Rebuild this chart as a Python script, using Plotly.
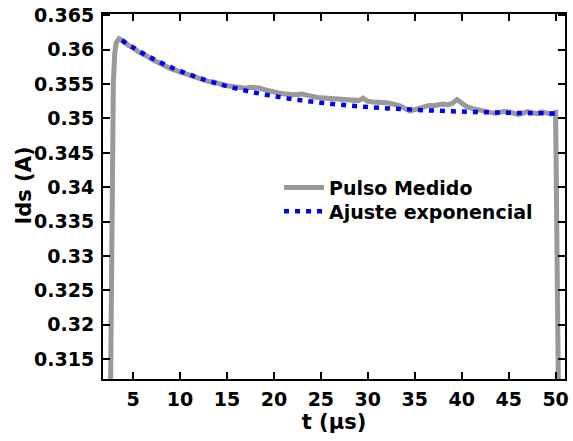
import plotly.graph_objects as go

t_meas = [2.6, 2.75, 2.9, 3.05, 3.2, 3.5, 3.8,
          4.0, 4.5, 5.0, 5.5, 6.0, 6.5, 7.0, 7.5, 8.0, 8.5, 9.0, 9.5,
          10.0, 10.5, 11.0, 11.5, 12.0, 12.5, 13.0, 13.5, 14.0, 14.5,
          15.0, 15.5, 16.0, 16.5, 17.0, 17.5, 18.0, 18.5, 19.0, 19.5,
          20.0, 20.5, 21.0, 21.5, 22.0, 22.5, 23.0, 23.5, 24.0, 24.5,
          25.0, 25.5, 26.0, 26.5, 27.0, 27.5, 28.0, 28.5, 29.0, 29.5,
          30.0, 30.5, 31.0, 31.5, 32.0, 32.5, 33.0, 33.5, 34.0, 34.5,
          35.0, 35.5, 36.0, 36.5, 37.0, 37.5, 38.0, 38.5, 39.0, 39.5,
          40.0, 40.5, 41.0, 41.5, 42.0, 42.5, 43.0, 43.5, 44.0, 44.5,
          45.0, 45.5, 46.0, 46.5, 47.0, 47.5, 48.0, 48.5, 49.0, 49.5,
          50.0, 50.3]
i_meas = [0.310, 0.340, 0.355, 0.3595, 0.3610, 0.3616, 0.3614,
          0.36125, 0.36065, 0.36035, 0.35975, 0.35945, 0.35905, 0.35860, 0.35820, 0.35800, 0.35760, 0.35725, 0.35700,
          0.35680, 0.35655, 0.35630, 0.35600, 0.35590, 0.35555, 0.35540, 0.35530, 0.35505, 0.35495,
          0.35475, 0.35470, 0.35460, 0.35445, 0.35440, 0.35455, 0.35450, 0.35440, 0.35420, 0.35400,
          0.35380, 0.35370, 0.35360, 0.35350, 0.35345, 0.35350, 0.35355, 0.35340, 0.35320, 0.35310,
          0.35300, 0.35295, 0.35290, 0.35280, 0.35270, 0.35275, 0.35265, 0.35255, 0.35260, 0.35295,
          0.35250, 0.35240, 0.35235, 0.35245, 0.35230, 0.35215, 0.35205, 0.35180, 0.35140, 0.35110,
          0.35130, 0.35150, 0.35175, 0.35190, 0.35185, 0.35195, 0.35210, 0.35200, 0.35220, 0.35275,
          0.35220, 0.35175, 0.35150, 0.35135, 0.35120, 0.35115, 0.35100, 0.35075, 0.35085, 0.35105,
          0.35095, 0.35080, 0.35060, 0.35075, 0.35100, 0.35085, 0.35070, 0.35095, 0.35080, 0.35065,
          0.35085, 0.310]

# Exponential fit
t_fit = [3.8, 5.0, 7.5, 10.0, 12.5, 15.0, 17.5, 20.0, 22.5, 25.0, 27.5,
         30.0, 32.5, 35.0, 37.5, 40.0, 42.5, 45.0, 47.5, 50.0]
i_fit = [0.36135, 0.36030, 0.35843, 0.35691, 0.35569, 0.35470, 0.35390,
         0.35325, 0.35272, 0.35230, 0.35195, 0.35167, 0.35145, 0.35127,
         0.35112, 0.35100, 0.35091, 0.35083, 0.35077, 0.35072]

x_ticks = [5, 10, 15, 20, 25, 30, 35, 40, 45, 50]
y_ticks = [0.315, 0.32, 0.325, 0.33, 0.335, 0.34, 0.345, 0.35, 0.355, 0.36, 0.365]
y_tick_text = ["0.315", "0.32", "0.325", "0.33", "0.335", "0.34", "0.345",
               "0.35", "0.355", "0.36", "0.365"]

FONT = "DejaVu Sans"
FS = 19

fig = go.Figure()
fig.add_trace(go.Scatter(x=t_meas, y=i_meas, mode="lines", name="<b>Pulso Medido</b>",
                         line=dict(color="#999999", width=5), legend="legend"))
fig.add_trace(go.Scatter(x=t_fit, y=i_fit, mode="lines", name="<b>Ajuste exponencial</b>",
                         line=dict(color="#0000FF", width=4.5, dash="5px,6px", shape="spline"),
                         legend="legend2"))

axis_common = dict(showgrid=False, zeroline=False, showline=True, linecolor="black",
                   linewidth=2, mirror="ticks", ticks="inside", ticklen=7, tickwidth=1.5,
                   tickcolor="black",
                   tickfont=dict(family=FONT, size=FS, color="black", weight="bold"))

fig.update_xaxes(range=[1.8, 51], tickvals=x_ticks, ticklabelstandoff=2,
                 title=dict(text="<b>t (µs)</b>", font=dict(family=FONT, size=21, color="black"),
                            standoff=3),
                 **axis_common)
fig.update_yaxes(range=[0.3121, 0.3652], tickvals=y_ticks, ticktext=y_tick_text,
                 ticklabelstandoff=3, **axis_common)

fig.add_annotation(text="<b>Ids (A)</b>", textangle=-90, xref="paper", yref="paper",
                   x=-0.173, y=0.53, xanchor="center", yanchor="middle", showarrow=False,
                   font=dict(family=FONT, size=21, color="black"))

legend_common = dict(xanchor="left", yanchor="top", bgcolor="rgba(0,0,0,0)", borderwidth=0,
                     font=dict(family=FONT, size=FS, color="black"), itemwidth=40)

fig.update_layout(
    width=573, height=441,
    margin=dict(l=103, r=4, t=13, b=62),
    paper_bgcolor="white", plot_bgcolor="white",
    showlegend=True,
    legend=dict(x=0.381, y=0.5765, **legend_common),
    legend2=dict(x=0.381, y=0.511, **legend_common),
)

fig.write_html("out.html", config={"displayModeBar": False},
               post_script="document.body.style.margin='0px';document.body.style.overflow='hidden';")
